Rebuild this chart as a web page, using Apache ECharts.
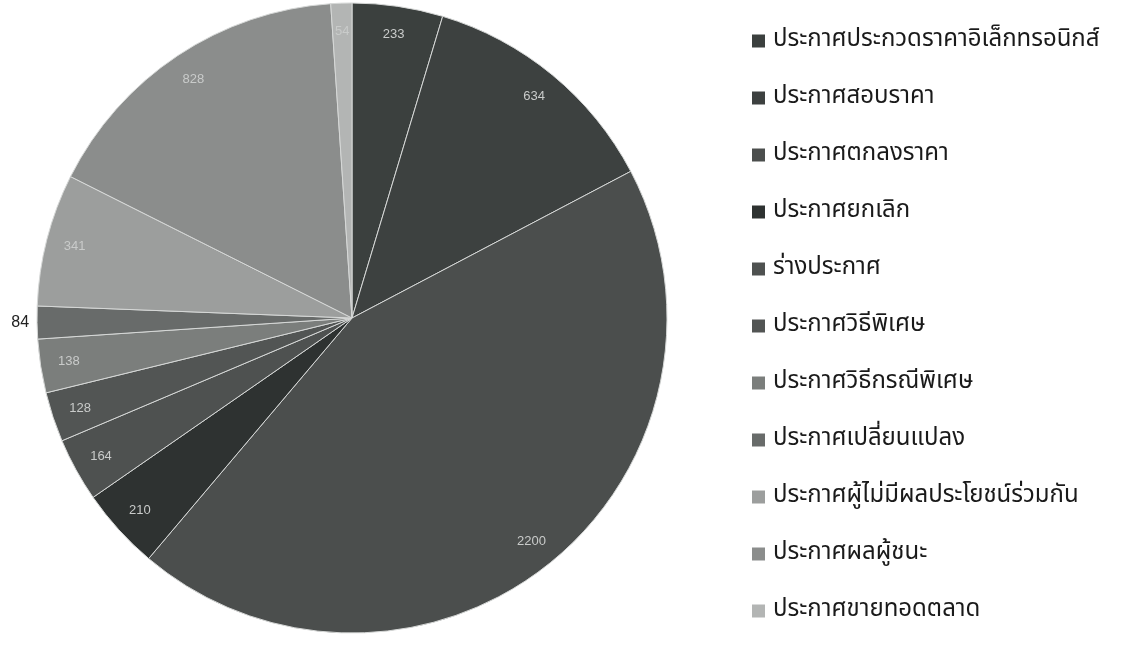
<!DOCTYPE html>
<html>
<head>
<meta charset="utf-8">
<script src="https://cdn.jsdelivr.net/npm/echarts@6/dist/echarts.min.js"></script>
<style>
  html, body { margin: 0; padding: 0; background: #fff; }
  #chart { width: 1127px; height: 646px; }
</style>
</head>
<body>
<div id="chart"></div>
<script>
// categories, clockwise from 12 o'clock (same order as legend)
var categories = [
  'ประกาศประกวดราคาอิเล็กทรอนิกส์',
  'ประกาศสอบราคา',
  'ประกาศตกลงราคา',
  'ประกาศยกเลิก',
  'ร่างประกาศ',
  'ประกาศวิธีพิเศษ',
  'ประกาศวิธีกรณีพิเศษ',
  'ประกาศเปลี่ยนแปลง',
  'ประกาศผู้ไม่มีผลประโยชน์ร่วมกัน',
  'ประกาศผลผู้ชนะ',
  'ประกาศขายทอดตลาด'
]
var counts = [233, 634, 2200, 210, 164, 128, 138, 84, 341, 828, 54]
var grays = ['#3b403e', '#3d4140', '#4b4e4d', '#2e3231', '#4e5150', '#525554',
             '#7b7e7c', '#686b6a', '#9c9e9d', '#8b8d8c', '#b3b5b4']

var font = '"Noto Sans Thai", "Noto Sans", "DejaVu Sans", sans-serif'
var center = [352, 318]
var R = 315

var slices = categories.map(function (name, i) {
  return { name: name, value: counts[i], itemStyle: { color: grays[i] } }
})

// second ring only carries the numbers near the rim
var labelRing = categories.map(function (name, i) {
  var item = { name: name, value: counts[i] }
  if (counts[i] === 84) {
    item.label = {
      position: 'outside', color: '#222', fontSize: 16,
      fontFamily: 'Liberation Sans, Arial, sans-serif'
    }
    item.labelLine = { show: false, length: 3, length2: 0 }
  }
  return item
})

var chart = echarts.init(document.getElementById('chart'))
chart.setOption({
  animation: false,
  backgroundColor: '#fff',
  legend: {
    orient: 'vertical',
    left: 752,
    top: 29,
    padding: 0,
    itemWidth: 13,
    itemHeight: 13,
    itemGap: 33,
    icon: 'rect',
    data: categories,
    itemStyle: { borderWidth: 0 },
    textStyle: {
      fontSize: 24, lineHeight: 24, color: '#1a1a1a', fontFamily: font,
      padding: [0, 0, 0, 3]
    }
  },
  series: [
    {
      type: 'pie',
      center: center,
      radius: [0, R],
      startAngle: 90,
      clockwise: true,
      avoidLabelOverlap: false,
      label: { show: false },
      labelLine: { show: false },
      itemStyle: { borderColor: '#d6d8d7', borderWidth: 1 },
      emphasis: { disabled: true },
      data: slices
    },
    {
      type: 'pie',
      center: center,
      radius: [R * 0.8, R],
      startAngle: 90,
      clockwise: true,
      silent: true,
      avoidLabelOverlap: false,
      legendHoverLink: false,
      itemStyle: { color: 'transparent' },
      label: {
        show: true,
        position: 'inside',
        formatter: '{c}',
        color: '#c9cbca',
        fontSize: 13,
        fontFamily: 'Liberation Sans, Arial, sans-serif'
      },
      labelLine: { show: false },
      emphasis: { disabled: true },
      data: labelRing
    }
  ]
})
</script>
</body>
</html>
